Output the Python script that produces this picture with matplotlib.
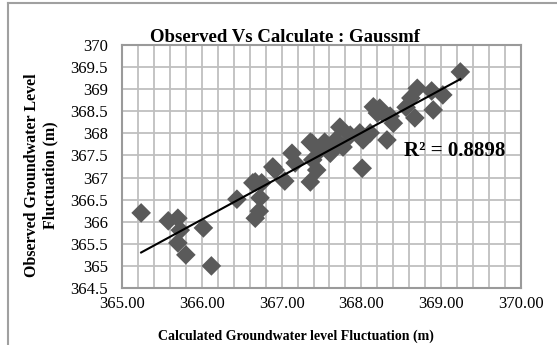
import numpy as np
import matplotlib
matplotlib.use("Agg")
import matplotlib.pyplot as plt
from matplotlib.lines import Line2D
from matplotlib.ticker import MultipleLocator, FormatStrFormatter

calculated = [365.24, 365.58, 365.70, 365.73, 366.02, 365.70, 365.80, 366.12,
              366.44, 366.67, 366.72, 366.73, 366.64, 366.75, 366.92, 367.04,
              367.13, 367.17, 367.36, 367.38, 367.44, 367.54, 367.61, 367.73,
              367.77, 367.86, 367.98, 368.02, 368.01, 368.11, 368.20, 368.32,
              368.40, 368.23, 368.36, 368.56, 368.62, 368.67, 368.70, 368.88,
              368.90, 369.02, 369.24, 367.68, 367.36, 367.56, 367.48, 367.39,
              366.89, 366.67, 367.67, 368.15, 368.27]
observed = [366.20, 366.02, 366.08, 365.81, 365.86, 365.52, 365.25, 365.00,
            366.51, 366.08, 366.24, 366.54, 366.88, 366.88, 367.17, 366.92,
            367.55, 367.33, 366.90, 367.78, 367.17, 367.80, 367.55, 368.14,
            367.69, 367.96, 368.01, 367.85, 367.21, 368.01, 368.46, 367.85,
            368.23, 368.57, 368.39, 368.59, 368.80, 368.35, 369.02, 368.96,
            368.53, 368.87, 369.39, 367.85, 367.80, 367.74, 367.62, 367.40,
            367.24, 366.90, 367.78, 368.60, 368.46]

title = "Observed Vs Calculate : Gaussmf"
xlabel = "Calculated Groundwater level Fluctuation (m)"
ylabel = "Observed Groundwater Level\nFluctuation (m)"
r2_text = "R² = 0.8898"

plt.rcParams['font.family'] = ['Liberation Serif', 'DejaVu Serif']

W, H = 557, 345
fig = plt.figure(figsize=(W / 100, H / 100), dpi=100)
ax = fig.add_axes([122 / W, (H - 288) / H, 399 / W, 243 / H])

x = np.array(calculated)
y = np.array(observed)

ax.set_xlim(365, 370)
ax.set_ylim(364.5, 370)
ax.xaxis.set_major_locator(MultipleLocator(1))
ax.xaxis.set_minor_locator(MultipleLocator(0.2))
ax.yaxis.set_major_locator(MultipleLocator(0.5))
ax.xaxis.set_major_formatter(FormatStrFormatter('%.2f'))
ax.yaxis.set_major_formatter(plt.FuncFormatter(lambda v, p: f"{v:g}"))

ax.grid(True, which='both', axis='x', color='#BFBFBF', lw=1.3)
ax.grid(True, which='major', axis='y', color='#BFBFBF', lw=1.3)
ax.set_axisbelow(True)
for s in ax.spines.values():
    s.set_color('#9A9A9A')
    s.set_linewidth(1.5)
ax.tick_params(which='both', length=0, labelsize=12, colors='black')
ax.tick_params(axis='y', pad=10)
ax.tick_params(axis='x', pad=6)

ax.scatter(x, y, marker='D', s=10 ** 2, color='#5A5A5A', edgecolors='none', zorder=3)

coef = np.polyfit(x, y, 1)
xl = np.array([x.min(), x.max()])
ax.plot(xl, np.polyval(coef, xl), color='black', lw=1.5, zorder=4)

ax.text(369.17, 367.6, r2_text, fontsize=15, fontweight='bold', ha='center', va='center', zorder=5)

fig.text(285 / W, 1 - 38 / H, title, fontsize=13.5, fontweight='bold', ha='center', va='center')
fig.text(296 / W, 1 - 336 / H, xlabel, fontsize=10, fontweight='bold', ha='center', va='center')
fig.text(41 / W, 1 - 175 / H, ylabel, fontsize=11.5, fontweight='bold', ha='center', va='center',
         rotation=90, linespacing=1.15)

fig.add_artist(Line2D([8 / W, 8 / W], [0, 1 - 3 / H], transform=fig.transFigure, color='#A0A0A0', lw=1.5))
fig.add_artist(Line2D([8 / W, 1], [1 - 3 / H, 1 - 3 / H], transform=fig.transFigure, color='#A0A0A0', lw=1.5))

fig.savefig('out.png', dpi=100)
